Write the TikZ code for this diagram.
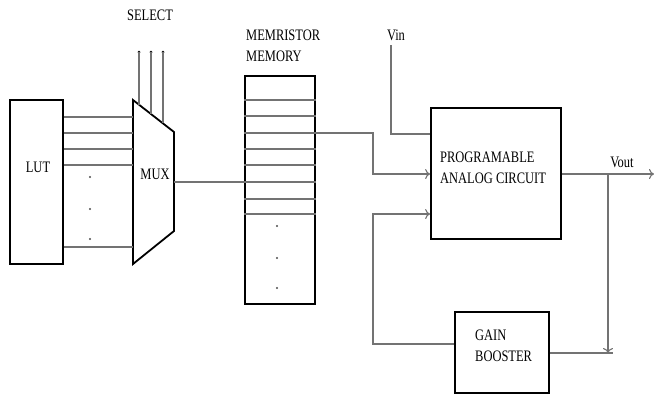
\documentclass[tikz,border=0pt]{standalone}
\usepackage{fontspec}
\setmainfont[FakeStretch=0.78]{Liberation Serif}
\usetikzlibrary{arrows.meta}
\tikzset{
	box/.style={draw,line width=1.8pt,inner sep=0pt},
	wire/.style={draw=black!55,line width=1.1pt},
	arr/.style={wire,-{To[length=5pt,width=10pt]}},
	lbl/.style={inner sep=0pt,font=\fontsize{16}{21}\selectfont,align=left},
	dot/.style={circle,fill=black,inner sep=0pt,minimum size=3pt},
	pt/.style={circle,fill=black!70,inner sep=0pt,minimum size=2.2pt}
}
\begin{document}
\begin{tikzpicture}[x=1pt,y=-1pt]
\useasboundingbox (0,0) rectangle (654,397);
% blocks
\node[box,minimum width=53pt,minimum height=164pt] (lut) at (36.5,182) {};
\node[lbl] (lutlbl) at (38,167) {LUT};
\coordinate (mtl) at (133,100);
\coordinate (mtr) at (174,132);
\coordinate (mbr) at (174,231);
\coordinate (mbl) at (133,264);
\draw[box] (mtl)--(mtr)--(mbr)--(mbl)--cycle;
\node[lbl] (muxlbl) at (155,174) {MUX};
\node[box,minimum width=70pt,minimum height=228pt] (mem) at (280,190) {};
\node[lbl,anchor=west] (memlbl) at (246,46) {MEMRISTOR\\MEMORY};
\node[box,minimum width=130pt,minimum height=131pt] (pac) at (496,173.5) {};
\node[lbl,anchor=west] (paclbl) at (440,168) {PROGRAMABLE\\ANALOG CIRCUIT};
\node[box,minimum width=94pt,minimum height=81pt] (gb) at (502,352.5) {};
\node[lbl,anchor=west] (gblbl) at (475,346) {GAIN\\BOOSTER};
% select lines
\node[lbl] (sel) at (150,15) {SELECT};
\foreach \x/\y in {139/105,151/114,163/123}{
	\node[dot] (s\x) at (\x,52) {};
	\draw[wire] (s\x.center) -- (\x,\y);
}
% LUT to MUX
\foreach \y in {117,133,149,165,247}
	\draw[wire] (lut.east |- 0,\y) -- (mtl |- 0,\y);
\foreach \y in {177,209,239}
	\node[pt] (ld\y) at (90,\y) {};
% memory rows
\foreach \y in {100,116,133,149,165,182,199,214}
	\draw[wire] (mem.west |- 0,\y) -- (mem.east |- 0,\y);
\foreach \y in {226,258,288}
	\node[pt] (md\y) at (277,\y) {};
\draw[wire] (mtr |- 0,182) -- (mem.west |- 0,182);
% memory to circuit
\coordinate (j1) at (373,174);
\draw[arr] (mem.east |- 0,133) -| (j1) -- (pac.west |- j1);
% Vin
\node[lbl] (vin) at (396,35) {Vin};
\coordinate (vtop) at (391,45);
\draw[wire] (vtop) |- (pac.west |- 0,134);
% Vout
\node[lbl] (vout) at (622,162) {Vout};
\coordinate (vend) at (654,174);
\coordinate (tap) at (608,174);
\draw[arr] (pac.east |- vend) -- (vend);
\draw[arr] (tap) -- (608,353);
\draw[wire] (gb.east |- 0,353) -- (613,353);
% feedback
\coordinate (j2) at (373,214);
\draw[arr] (gb.west |- 0,344) -| (j2) -- (pac.west |- j2);
\end{tikzpicture}
\end{document}
